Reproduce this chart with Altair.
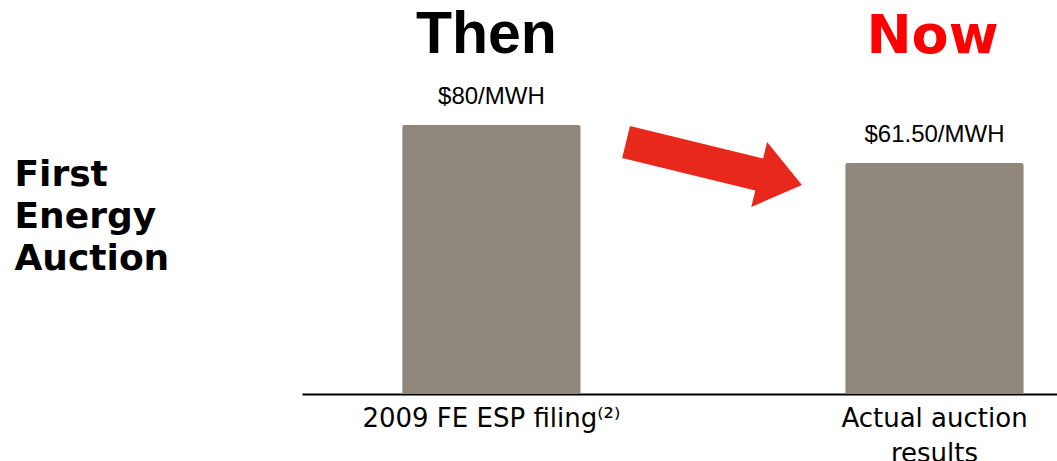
import altair as alt
import pandas as pd

categories = ["2009 FE ESP filing⁽²⁾", "Actual auction results"]
values = [80, 61.5]
value_labels = ["$80/MWH", "$61.50/MWH"]
headers = ["Then", "Now"]
row_title = ["First", "Energy", "Auction"]

df = pd.DataFrame({"cat": categories, "val": values, "lab": value_labels, "head": headers})

Y_MIN, Y_MAX = -51, 140.8

x = alt.X(
    "cat:N",
    sort=categories,
    scale=alt.Scale(paddingInner=0.598, paddingOuter=0.151, align=0.75),
    axis=alt.Axis(
        title=None,
        labelExpr="datum.value == 'Actual auction results' ? ['Actual auction', 'results'] : datum.value",
        labelFont="DejaVu Sans",
        labelFontSize=26,
        labelColor="black",
        labelAngle=0,
        labelPadding=11,
        labelLineHeight=35,
        labelBaseline="top",
        labelLimit=0,
        ticks=False,
        domainColor="black",
        domainWidth=2,
        grid=False,
    ),
)

y = alt.Y(
    "val:Q",
    scale=alt.Scale(domain=[Y_MIN, Y_MAX], zero=False, nice=False),
    axis=alt.Axis(
        title=row_title,
        titleAngle=0,
        titleAlign="left",
        titleBaseline="alphabetic",
        titleX=-288,
        titleY=185,
        titleFont="DejaVu Sans",
        titleFontWeight="bold",
        titleFontSize=36,
        titleLineHeight=42,
        titleColor="black",
        labels=False,
        ticks=False,
        domain=False,
        grid=False,
    ),
)

bars = alt.Chart(df).mark_bar(
    color="#8F867C", cornerRadiusTopLeft=2, cornerRadiusTopRight=2
).encode(x=x, y=y, y2=alt.datum(Y_MIN))

labels = alt.Chart(df).mark_text(
    font="Liberation Sans", fontSize=24, color="black", baseline="alphabetic", dy=-21
).encode(x=alt.X("cat:N", sort=categories), y=alt.Y("val:Q"), text="lab:N")

then_text = alt.Chart(df).transform_filter("datum.head == 'Then'").mark_text(
    font="Liberation Sans", fontWeight="bold", fontSize=59, color="black", baseline="alphabetic", dx=-5
).encode(x=alt.X("cat:N", sort=categories), y=alt.value(53), text="head:N")

now_text = alt.Chart(df).transform_filter("datum.head == 'Now'").mark_text(
    font="DejaVu Sans", fontWeight="bold", fontSize=54, color="#FF0000", baseline="alphabetic", dx=-2
).encode(x=alt.X("cat:N", sort=categories), y=alt.value(53), text="head:N")

arrow_path = "M-1,-0.182L0.514,-0.182L0.514,-0.37L1,0L0.514,0.37L0.514,0.182L-1,0.182Z"
arrow = alt.Chart(df).transform_filter("datum.head == 'Then'").mark_point(
    shape=arrow_path, filled=True, color="#E8281A", opacity=1, size=32761, angle=13.7, strokeWidth=0
).encode(x=alt.value(412), y=alt.value(163.5))

chart = alt.layer(bars, labels, then_text, now_text, arrow).properties(
    width=755,
    height=394,
    background="white",
    padding={"left": 302, "top": 0, "right": 0, "bottom": 67},
    autosize=alt.AutoSizeParams(type="none"),
).configure_view(strokeWidth=0, strokeOpacity=0)

chart.save("out.html", embed_options={"renderer": "svg", "actions": False})
